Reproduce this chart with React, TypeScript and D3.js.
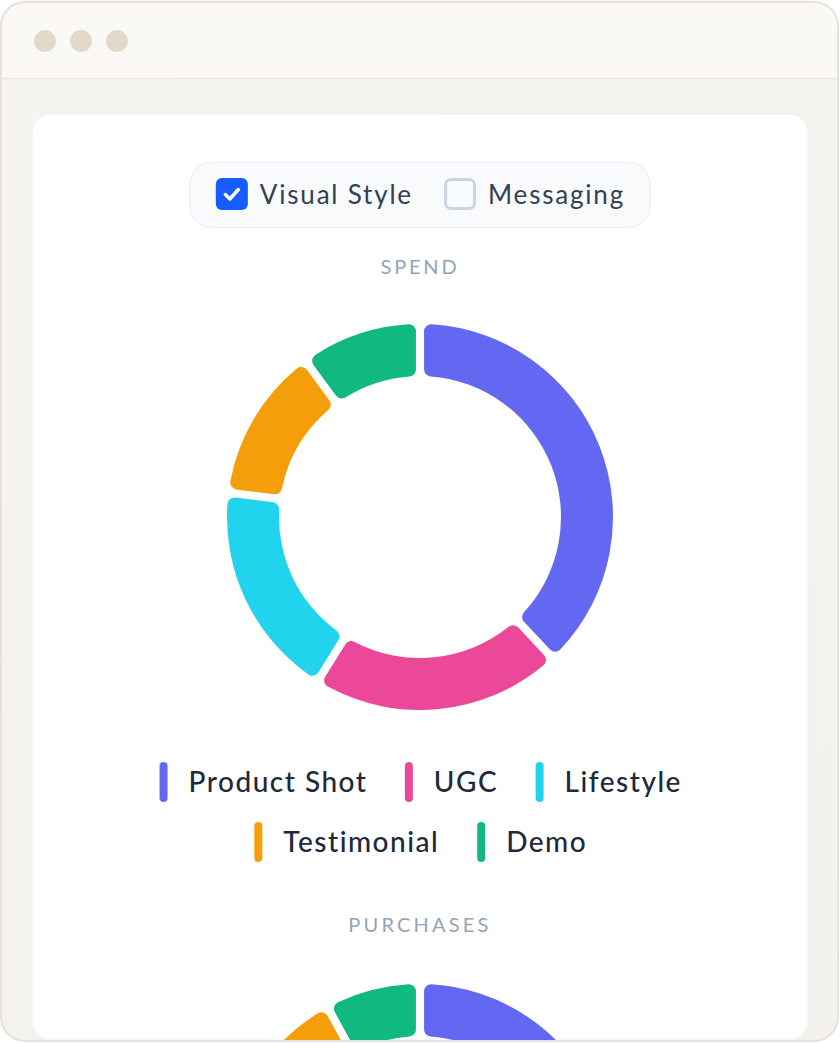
import React, { useMemo } from 'react';
import * as d3 from 'd3';

const categories = ['Product Shot', 'UGC', 'Lifestyle', 'Testimonial', 'Demo'];
const colors = ['#6467f2', '#ec4899', '#22d3ee', '#f59e0b', '#10b981'];
const spendValues = [38.5, 20.9, 18.1, 12.7, 9.8];
const purchaseValues = [36, 24, 18, 14.4, 7.6];
const toggleLabels = ['Visual Style', 'Messaging'];
const toggleChecked = [true, false];
const sectionTitles = ['SPEND', 'PURCHASES'];

const FONT = 'Lato, "Noto Sans", sans-serif';
const W = 840;
const H = 1044;
const CX = 420;

function measure(text: string, size: number, ls = 0, weight = 400): number {
  const c = document.createElement('canvas');
  const ctx = c.getContext('2d')!;
  ctx.font = `${weight} ${size}px Lato`;
  return ctx.measureText(text).width + ls * (text.length - 1);
}

function Donut({ values, cy }: { values: number[]; cy: number }) {
  const outer = 193;
  const inner = 141;
  const pie = d3.pie<number>().sort(null).value((d) => d).padAngle(0.034);
  const arc = d3
    .arc<d3.PieArcDatum<number>>()
    .innerRadius(inner)
    .outerRadius(outer)
    .cornerRadius(7);
  const arcs = pie(values);
  return (
    <g transform={`translate(${CX},${cy})`}>
      {arcs.map((a, i) => (
        <path key={categories[i]} d={arc(a) || ''} fill={colors[i]} />
      ))}
    </g>
  );
}

export default function App() {
  const legendSize = 28;
  const legendLS = 1.5;
  const toggleSize = 26;
  const toggleLS = 1.8;

  const toggleLayout = useMemo(() => {
    const box = 32;
    const gapBoxText = 12;
    const gapItems = 33;
    const padL = 26;
    const padR = 27;
    const widths = toggleLabels.map((t) => measure(t, toggleSize, toggleLS));
    const total =
      padL + widths.reduce((s, w) => s + box + gapBoxText + w, 0) + gapItems * (widths.length - 1) + padR;
    const x0 = CX - total / 2;
    let x = x0 + padL;
    const items = widths.map((w) => {
      const it = { bx: x, tx: x + box + gapBoxText, w };
      x += box + gapBoxText + w + gapItems;
      return it;
    });
    return { x0, total, items };
  }, []);

  const legendLayout = useMemo(() => {
    const bar = 8;
    const gapBarText = 21;
    const gapItems = 39;
    const maxW = 640;
    const itemW = categories.map((c) => bar + gapBarText + measure(c, legendSize, legendLS, 500));
    const rows: number[][] = [];
    let cur: number[] = [];
    let curW = 0;
    itemW.forEach((w, i) => {
      const add = cur.length ? gapItems + w : w;
      if (cur.length && curW + add > maxW) {
        rows.push(cur);
        cur = [i];
        curW = w;
      } else {
        cur.push(i);
        curW += add;
      }
    });
    if (cur.length) rows.push(cur);
    const out: { i: number; x: number; y: number }[] = [];
    rows.forEach((r, ri) => {
      const rw = r.reduce((s, i) => s + itemW[i], 0) + gapItems * (r.length - 1);
      let x = CX - rw / 2;
      r.forEach((i) => {
        out.push({ i, x, y: 782 + ri * 60 });
        x += itemW[i] + gapItems;
      });
    });
    return { out, bar, gapBarText };
  }, []);

  return (
    <svg
      width={W}
      height={H}
      viewBox={`0 0 ${W} ${H}`}
      style={{ position: 'absolute', left: 0, top: 0, fontFamily: FONT }}
    >
      <defs>
        <clipPath id="frameClip">
          <rect x={1} y={2} width={837} height={1039} rx={24} />
        </clipPath>
        <linearGradient id="bodyGrad" x1="0" y1="0" x2="1" y2="1">
          <stop offset="0" stopColor="#f6f4f0" />
          <stop offset="1" stopColor="#f3f1ec" />
        </linearGradient>
      </defs>
      <rect x={0} y={0} width={W} height={H} fill="#ffffff" />
      <g clipPath="url(#frameClip)">
        <rect x={1} y={2} width={837} height={1039} fill="url(#bodyGrad)" />
        <rect x={1} y={2} width={837} height={77} fill="#faf9f6" />
        <line x1={1} x2={838} y1={78.5} y2={78.5} stroke="#ebe7e1" strokeWidth={1.5} />
        {[45, 81, 117].map((x) => (
          <circle key={x} cx={x} cy={41} r={11} fill="#e2d9cb" />
        ))}
        {/* card */}
        <rect x={32} y={114} width={776} height={926} rx={18} fill="#ffffff" stroke="#e9eef6" strokeWidth={1} />

        {/* toggle pill */}
        <rect
          x={toggleLayout.x0}
          y={162.5}
          width={toggleLayout.total}
          height={65}
          rx={22}
          fill="#f8fafc"
          stroke="#edf1f6"
          strokeWidth={1.5}
        />
        {toggleLayout.items.map((it, i) => (
          <g key={toggleLabels[i]}>
            {toggleChecked[i] ? (
              <g>
                <rect x={it.bx} y={178} width={32} height={32} rx={6} fill="#175cff" />
                <path
                  d={`M${it.bx + 9.5},${194.5} L${it.bx + 14},${199} L${it.bx + 22.5},${189.5}`}
                  fill="none"
                  stroke="#ffffff"
                  strokeWidth={3.5}
                  strokeLinecap="round"
                  strokeLinejoin="round"
                />
              </g>
            ) : (
              <rect x={it.bx + 1.5} y={179.5} width={29} height={29} rx={5.5} fill="#f8fafc" stroke="#cad5e2" strokeWidth={3} />
            )}
            <text x={it.tx} y={204} fontSize={toggleSize} letterSpacing={toggleLS} fill="#334155">
              {toggleLabels[i]}
            </text>
          </g>
        ))}

        {/* spend title */}
        <text x={CX} y={274} textAnchor="middle" fontSize={20} letterSpacing={2.8} fill="#94a3b8">
          {sectionTitles[0]}
        </text>

        <Donut values={spendValues} cy={517} />

        {/* legend */}
        {legendLayout.out.map(({ i, x, y }) => (
          <g key={categories[i]}>
            <rect x={x} y={y - 20} width={legendLayout.bar} height={40} rx={4} fill={colors[i]} />
            <text
              x={x + legendLayout.bar + legendLayout.gapBarText}
              y={y + 10}
              fontSize={legendSize}
              fontWeight={500}
              letterSpacing={legendLS}
              fill="#1e293b"
            >
              {categories[i]}
            </text>
          </g>
        ))}

        <text x={CX} y={932} textAnchor="middle" fontSize={20} letterSpacing={3.2} fill="#94a3b8">
          {sectionTitles[1]}
        </text>

        <Donut values={purchaseValues} cy={1177} />
      </g>
      <rect x={1} y={2} width={837} height={1039} rx={24} fill="none" stroke="#e6e2db" strokeWidth={2} />
    </svg>
  );
}
